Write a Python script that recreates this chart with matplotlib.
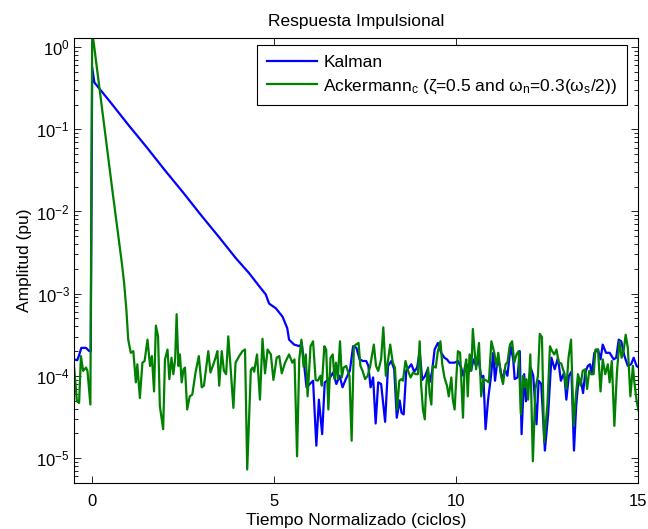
import numpy as np
import matplotlib
matplotlib.use('Agg')
import matplotlib.pyplot as plt
from matplotlib.ticker import LogLocator, NullFormatter, FixedLocator

# ---------------- data ----------------
# time in normalized cycles, amplitudes stored as log10(pu)
t_kalman = [-0.50, -0.41, -0.36, -0.30, -0.17, -0.08, -0.04, 0.00,
            0.06, 0.50, 1.00, 1.50, 2.00, 2.50, 3.00, 3.50,
            3.95, 4.31, 4.59, 4.77, 4.86, 5.05, 5.23, 5.36,
            5.41, 5.55, 5.70, 5.76, 5.89, 6.07, 6.16, 6.23,
            6.32, 6.39, 6.51, 6.62, 6.71, 6.80, 6.88, 6.97,
            7.08, 7.17, 7.26, 7.35, 7.44, 7.53, 7.59, 7.65,
            7.72, 7.79, 7.86, 7.94, 8.05, 8.13, 8.22, 8.30,
            8.37, 8.45, 8.50, 8.56, 8.63, 8.70, 8.77, 8.85,
            8.93, 9.00, 9.07, 9.15, 9.22, 9.27, 9.34, 9.41,
            9.50, 9.59, 9.68, 9.75, 9.82, 9.96, 10.05, 10.14,
            10.20, 10.28, 10.35, 10.42, 10.48, 10.55, 10.62, 10.69,
            10.75, 10.81, 10.88, 10.96, 11.02, 11.07, 11.14, 11.20,
            11.27, 11.34, 11.41, 11.50, 11.57, 11.61, 11.69, 11.75,
            11.80, 11.87, 11.92, 11.98, 12.05, 12.12, 12.21, 12.27,
            12.34, 12.44, 12.53, 12.62, 12.71, 12.80, 12.88, 12.97,
            13.03, 13.10, 13.17, 13.24, 13.30, 13.37, 13.44, 13.49,
            13.55, 13.62, 13.68, 13.73, 13.80, 13.90, 13.97, 14.03,
            14.12, 14.22, 14.33, 14.40, 14.47, 14.54, 14.62, 14.72,
            14.81, 14.88, 14.96, 15.02]
kalman_log10 = [-3.80, -3.81, -3.75, -3.66, -3.66, -3.70, -3.70, -0.25,
                -0.43, -0.67, -0.95, -1.22, -1.50, -1.77, -2.05, -2.32,
                -2.57, -2.75, -2.91, -3.01, -3.12, -3.18, -3.28, -3.42,
                -3.56, -3.62, -3.64, -3.60, -4.14, -4.06, -4.85, -4.29,
                -4.71, -4.08, -4.04, -3.96, -4.10, -4.00, -4.14, -4.04,
                -3.94, -3.64, -3.66, -3.80, -3.82, -3.82, -3.88, -4.14,
                -4.02, -4.58, -4.08, -4.10, -4.56, -3.88, -3.82, -3.92,
                -4.51, -4.30, -4.45, -4.47, -3.94, -3.90, -3.86, -3.95,
                -3.90, -3.70, -4.05, -4.00, -3.92, -4.08, -3.95, -3.68,
                -3.60, -3.72, -3.78, -3.80, -3.84, -3.84, -3.82, -3.90,
                -4.00, -3.85, -3.95, -3.92, -3.80, -3.88, -3.80, -4.02,
                -4.00, -4.65, -4.29, -4.00, -3.72, -4.06, -3.80, -3.88,
                -4.06, -3.92, -4.00, -3.64, -3.80, -4.04, -4.02, -3.70,
                -4.71, -3.98, -4.31, -4.14, -3.90, -4.00, -4.59, -4.06,
                -4.10, -4.91, -4.47, -3.78, -3.92, -3.78, -4.06, -3.96,
                -4.29, -4.00, -3.95, -4.91, -4.37, -4.02, -4.08, -4.21,
                -3.96, -3.88, -3.86, -3.98, -3.72, -3.68, -3.80, -3.62,
                -3.72, -3.72, -3.80, -3.78, -3.56, -3.58, -3.75, -3.88,
                -3.86, -3.78, -3.88, -3.90]

t_ack = [-0.50, -0.42, -0.36, -0.31, -0.25, -0.17, -0.13, -0.05,
         0.00, 0.0625, 0.125, 0.1875, 0.25, 0.3125, 0.375, 0.4375,
         0.50, 0.5625, 0.625, 0.6875, 0.75, 0.8125, 0.875, 0.94,
         0.99, 1.06, 1.13, 1.20, 1.24, 1.31, 1.38, 1.44,
         1.52, 1.59, 1.64, 1.70, 1.75, 1.81, 1.86, 1.95,
         2.00, 2.07, 2.12, 2.18, 2.23, 2.28, 2.32, 2.37,
         2.41, 2.46, 2.51, 2.55, 2.61, 2.68, 2.75, 2.84,
         2.93, 3.01, 3.07, 3.14, 3.19, 3.25, 3.33, 3.39,
         3.44, 3.49, 3.56, 3.62, 3.68, 3.74, 3.80, 3.88,
         3.94, 4.04, 4.13, 4.20, 4.26, 4.36, 4.41, 4.45,
         4.53, 4.61, 4.68, 4.75, 4.82, 4.91, 4.98, 5.07,
         5.14, 5.21, 5.30, 5.41, 5.50, 5.56, 5.63, 5.69,
         5.75, 5.81, 5.87, 5.92, 6.00, 6.07, 6.14, 6.20,
         6.27, 6.31, 6.38, 6.43, 6.49, 6.55, 6.61, 6.66,
         6.70, 6.75, 6.81, 6.86, 6.91, 6.98, 7.07, 7.13,
         7.19, 7.25, 7.32, 7.37, 7.43, 7.50, 7.57, 7.64,
         7.74, 7.80, 7.86, 7.94, 8.00, 8.07, 8.14, 8.19,
         8.26, 8.32, 8.38, 8.44, 8.50, 8.54, 8.61, 8.68,
         8.75, 8.82, 8.89, 8.95, 9.00, 9.04, 9.09, 9.14,
         9.18, 9.23, 9.27, 9.32, 9.36, 9.44, 9.50, 9.57,
         9.62, 9.68, 9.75, 9.80, 9.87, 9.91, 9.96, 10.00,
         10.05, 10.11, 10.19, 10.23, 10.28, 10.32, 10.37, 10.42,
         10.46, 10.51, 10.55, 10.63, 10.69, 10.75, 10.84, 10.90,
         10.97, 11.05, 11.11, 11.16, 11.23, 11.29, 11.36, 11.41,
         11.48, 11.54, 11.60, 11.66, 11.72, 11.78, 11.84, 11.89,
         11.93, 11.98, 12.04, 12.11, 12.18, 12.25, 12.30, 12.36,
         12.42, 12.51, 12.58, 12.64, 12.70, 12.76, 12.82, 12.89,
         12.96, 13.03, 13.09, 13.16, 13.23, 13.29, 13.35, 13.42,
         13.48, 13.55, 13.60, 13.66, 13.71, 13.78, 13.83, 13.90,
         13.97, 14.03, 14.10, 14.17, 14.22, 14.28, 14.35, 14.42,
         14.49, 14.55, 14.61, 14.66, 14.72, 14.79, 14.86, 14.90,
         14.96, 15.01]
ack_log10 = [-3.88, -4.31, -4.33, -3.76, -3.94, -3.90, -3.94, -4.35,
             0.20, -0.02, -0.24, -0.46, -0.68, -0.90, -1.12, -1.34,
             -1.56, -1.77, -1.98, -2.19, -2.40, -2.62, -2.86, -3.20,
             -3.56, -3.72, -3.70, -4.08, -3.86, -4.27, -3.84, -3.82,
             -3.56, -3.88, -3.76, -4.19, -3.39, -3.52, -4.37, -4.65,
             -3.80, -3.68, -4.04, -3.78, -3.98, -3.80, -3.25, -3.88,
             -3.74, -4.08, -3.92, -3.90, -4.41, -4.25, -4.23, -3.96,
             -3.76, -4.14, -4.12, -3.88, -3.70, -3.96, -3.86, -3.78,
             -3.70, -4.12, -3.70, -3.94, -3.98, -3.52, -3.88, -4.39,
             -3.84, -3.76, -3.70, -3.68, -5.14, -3.93, -3.90, -3.95,
             -3.74, -4.29, -3.55, -3.97, -3.68, -3.74, -4.05, -3.78,
             -3.76, -3.97, -3.84, -3.74, -3.84, -3.80, -4.98, -3.80,
             -3.56, -3.89, -3.74, -4.25, -3.64, -3.58, -4.05, -4.06,
             -4.00, -4.12, -3.64, -3.68, -4.41, -3.78, -3.74, -4.04,
             -3.84, -4.04, -3.58, -4.02, -3.90, -3.88, -4.00, -4.79,
             -3.64, -3.62, -3.60, -3.88, -3.94, -4.04, -4.00, -3.88,
             -3.62, -3.88, -3.94, -3.80, -3.41, -4.00, -3.78, -3.62,
             -3.84, -3.90, -4.41, -4.06, -4.04, -4.06, -3.82, -3.94,
             -4.02, -3.96, -3.98, -3.98, -3.58, -4.12, -4.41, -4.53,
             -4.12, -3.90, -4.21, -4.35, -3.88, -3.90, -3.70, -3.58,
             -3.86, -4.02, -4.12, -4.25, -4.02, -4.29, -4.41, -4.08,
             -3.70, -3.72, -4.51, -3.92, -3.80, -4.25, -3.74, -3.94,
             -3.43, -3.70, -3.92, -3.60, -4.25, -4.04, -4.06, -4.08,
             -3.58, -3.72, -3.88, -3.72, -3.98, -4.10, -3.86, -3.84,
             -3.62, -3.58, -3.84, -3.74, -3.70, -4.47, -4.00, -4.14,
             -4.04, -4.29, -3.74, -5.04, -4.16, -4.00, -3.49, -3.53,
             -4.81, -4.35, -3.64, -3.70, -3.74, -3.68, -3.84, -3.85,
             -3.95, -4.16, -3.78, -3.56, -4.61, -4.25, -3.98, -4.12,
             -3.94, -3.92, -4.16, -3.94, -3.98, -3.98, -3.68, -3.68,
             -4.19, -3.80, -3.98, -3.86, -4.08, -3.82, -4.61, -3.96,
             -3.58, -3.78, -3.68, -3.50, -3.66, -4.25, -3.88, -4.08,
             -4.30, -4.42]

labels = ['Kalman',
          'Ackermann$_\\mathregular{c}$ (ζ=0.5 and ω$_\\mathregular{n}$=0.3(ω$_\\mathregular{s}$/2))']
x_ticks = [0, 5, 10, 15]

# ---------------- style ----------------
plt.rcParams['font.family'] = ['Liberation Sans', 'DejaVu Sans']
plt.rcParams['mathtext.fontset'] = 'custom'
plt.rcParams['mathtext.rm'] = 'Liberation Sans'
plt.rcParams['mathtext.it'] = 'Liberation Sans:italic'
plt.rcParams['mathtext.sf'] = 'Liberation Sans'
plt.rcParams['font.size'] = 12

fig = plt.figure(figsize=(6.48, 5.29), dpi=100)
ax = fig.add_axes([0.1142, 0.0875, 0.8704, 0.8401])

ax.semilogy(t_kalman, 10 ** np.array(kalman_log10), color='#0000ff', lw=1.6, label=labels[0])
ax.semilogy(t_ack, 10 ** np.array(ack_log10), color='#008000', lw=1.6, label=labels[1])

ax.set_xlim(-0.5, 15)
ax.set_ylim(5.0e-6, 1.28)
ax.xaxis.set_major_locator(FixedLocator(x_ticks))
ax.yaxis.set_major_locator(LogLocator(base=10, numticks=20))
ax.yaxis.set_minor_locator(LogLocator(base=10, subs=np.arange(2, 10), numticks=20))
ax.yaxis.set_minor_formatter(NullFormatter())

ax.tick_params(which='both', direction='in', top=True, right=True, labelsize=12, width=0.6)
ax.tick_params(which='major', length=5)
ax.tick_params(which='minor', length=3)
ax.tick_params(axis='x', which='major', pad=8)
ax.tick_params(axis='y', which='major', pad=3)
for s in ax.spines.values():
    s.set_linewidth(0.8)

ax.set_title('Respuesta Impulsional', fontsize=12.5, pad=9)
ax.set_xlabel('Tiempo Normalizado (ciclos)', fontsize=12.5, labelpad=3)
ax.set_ylabel('Amplitud (pu)', fontsize=12.5, labelpad=3)

leg = ax.legend(loc='upper right', bbox_to_anchor=(0.9805, 0.985), borderaxespad=0,
                fancybox=False, framealpha=1, edgecolor='black', fontsize=12.5,
                handlelength=2.9, handletextpad=0.35, labelspacing=0.45, borderpad=0.55)
leg.get_frame().set_linewidth(0.8)

fig.savefig('out.png', dpi=100)
